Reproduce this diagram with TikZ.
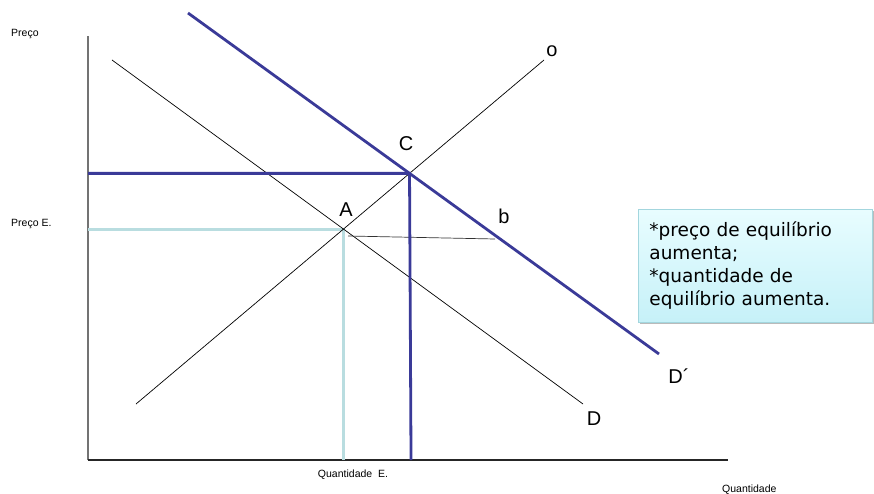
\documentclass[tikz,border=0pt]{standalone}
\usepackage{fontspec}
\setmainfont{Liberation Sans}
\newfontfamily\notefont{DejaVu Sans}
\usetikzlibrary{positioning, shadows}
\definecolor{shiftblue}{HTML}{3A3A98}
\definecolor{eqcyan}{HTML}{B9DDE0}
\definecolor{noteline}{HTML}{A3D6DE}
\definecolor{notetop}{HTML}{E8FDFF}
\definecolor{notebot}{HTML}{C6F1F8}

\begin{document}
\begin{tikzpicture}[x=1pt, y=-1pt,
  axis/.style={line width=1.3pt},
  thin/.style={black, line width=0.7pt},
  shiftline/.style={shiftblue, line width=2.8pt},
  eqline/.style={eqcyan, line width=3pt},
  lbl/.style={font=\fontsize{20}{24}\selectfont, inner sep=0pt, anchor=base},
  axlbl/.style={font=\fontsize{10.5}{12}\selectfont, inner sep=0pt, anchor=base west},
  note/.style={draw=noteline, line width=0.8pt, top color=notetop, bottom color=notebot,
    drop shadow={shadow xshift=2pt, shadow yshift=-2pt, fill=black!45, opacity=0.6},
    font=\notefont\fontsize{18.5}{23}\selectfont, text width=212pt, inner xsep=11pt,
    inner ysep=10pt, minimum height=113pt, align=left, anchor=north west}]
  \useasboundingbox (0,0) rectangle (874,494);

  % axes
  \coordinate (origin) at (88,460);
  \coordinate (ytop) at (88,36);
  \coordinate (xend) at (728,460);
  \draw[axis, black!55] (origin) -- (ytop);
  \draw[axis, black!85] (origin) -- (xend);

  % curves
  \coordinate (d1) at (112,60);
  \coordinate (d2) at (583,404);
  \coordinate (s1) at (136,404);
  \coordinate (s2) at (544,60);
  \coordinate (dp1) at (188,13);
  \coordinate (dp2) at (659,354);
  \coordinate (ptA) at (intersection of s1--s2 and d1--d2);
  \coordinate (ptC) at (intersection of s1--s2 and dp1--dp2);
  \coordinate (bstart) at (348,236);
  \coordinate (bend) at (495,239);

  \draw[eqline] (ptA -| origin) -- (ptA) -- (ptA |- origin);
  \draw[thin] (d1) -- (d2);
  \draw[thin] (s1) -- (s2);
  \draw[thin, black!80] (bstart) -- (bend);
  \draw[shiftline] (dp1) -- (dp2);
  \draw[shiftline] (ptC -| origin) -- (ptC) -- ([xshift=1.5pt]ptC |- origin);

  % labels
  \node[lbl] (labO) at (552,57) {o};
  \node[lbl] (labC) at (406,151) {C};
  \node[lbl] (labA) at (346,216) {A};
  \node[lbl] (labB) at (504,223) {b};
  \node[lbl] (labDp) at (679,383) {D´};
  \node[lbl] (labD) at (594,425) {D};

  \node[axlbl] (preco) at (11,37) {Preço};
  \node[axlbl] (precoE) at (11,226) {Preço E.};
  \node[axlbl, anchor=base] (qtdE) at (353,477) {Quantidade\ \ E.};
  \node[axlbl] (qtd) at (722,492) {Quantidade};

  \node[note] (box) at (638,209) {*preço de equilíbrio\\ aumenta;\\ \relax *quantidade de\\ equilíbrio aumenta.};
\end{tikzpicture}
\end{document}
